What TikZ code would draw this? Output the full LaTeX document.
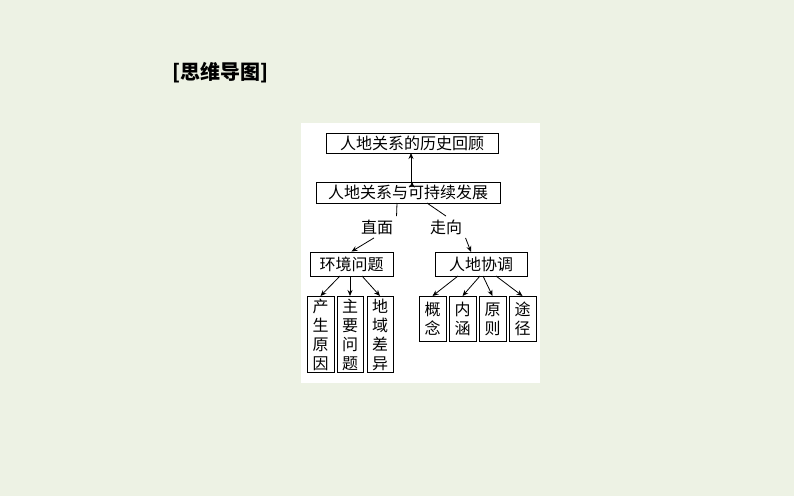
\documentclass[tikz,border=0pt]{standalone}
\usepackage{fontspec}
\newfontfamily\cjk{Noto Sans CJK SC}
\usetikzlibrary{arrows.meta}
\definecolor{bg}{HTML}{EDF2E4}
\begin{document}
\begin{tikzpicture}[x=1pt,y=-1pt,
  bx/.style={draw,line width=0.9pt,fill=white,inner sep=0pt,font=\cjk\fontsize{16}{16}\selectfont},
  vb/.style={draw,line width=0.9pt,fill=white,inner sep=0pt,font=\cjk\fontsize{16}{19}\selectfont,align=center,anchor=north},
  ar/.style={line width=0.8pt,-{Stealth[length=6pt,width=5pt]}},
  ln/.style={line width=0.8pt}]
\fill[bg] (0,0) rectangle (794,496);
\useasboundingbox (0,0) rectangle (794,496);
\fill[white] (301,123) rectangle (540,383);
\node[font=\cjk\bfseries\fontsize{20}{20}\selectfont] (title) at (220,73) {[思维导图]};
\node[bx,minimum width=172pt,minimum height=20pt] (top) at (412,143) {人地关系的历史回顾};
\node[bx,minimum width=184pt,minimum height=21pt] (main) at (408,192.5) {人地关系与可持续发展};
\draw[ar] (main.north -| top.south) ++(0,0) coordinate (m1);
\draw[ar] (411,182) -- (411,153);
\node[font=\cjk\fontsize{16}{16}\selectfont] (l1) at (377,227) {直面};
\node[font=\cjk\fontsize{16}{16}\selectfont] (l2) at (446,227) {走向};
\node[bx,minimum width=83pt,minimum height=24pt] (env) at (351.5,264) {环境问题};
\node[bx,minimum width=92pt,minimum height=24pt] (har) at (481,264) {人地协调};
\draw[ln] (397,203) -- (l1.north east);
\draw[ar] (l1.south) ++(-3,0) -- (env.north);
\draw[ln] (427,203) -- (l2.north);
\draw[ar] (l2.south east) -- (471,252);
\node[vb,minimum width=27pt,minimum height=76pt] (a1) at (320.5,296) {产\\生\\原\\因};
\node[vb,minimum width=26pt,minimum height=76pt] (a2) at (350,296) {主\\要\\问\\题};
\node[vb,minimum width=26pt,minimum height=76pt] (a3) at (380,296) {地\\域\\差\\异};
\node[vb,minimum width=27pt,minimum height=45pt] (b1) at (432.5,296) {概\\念};
\node[vb,minimum width=27pt,minimum height=45pt] (b2) at (462.5,296) {内\\涵};
\node[vb,minimum width=27pt,minimum height=45pt] (b3) at (492.5,296) {原\\则};
\node[vb,minimum width=27pt,minimum height=45pt] (b4) at (522.5,296) {途\\径};
\draw[ar] (340,276) -- (a1.north);
\draw[ar] (350,276) -- (a2.north);
\draw[ar] (362,276) -- (a3.north);
\draw[ar] (458,276) -- (b1.north);
\draw[ar] (480,276) -- (b2.north);
\draw[ar] (483,276) -- (b3.north);
\draw[ar] (496,276) -- (b4.north);
\end{tikzpicture}
\end{document}
